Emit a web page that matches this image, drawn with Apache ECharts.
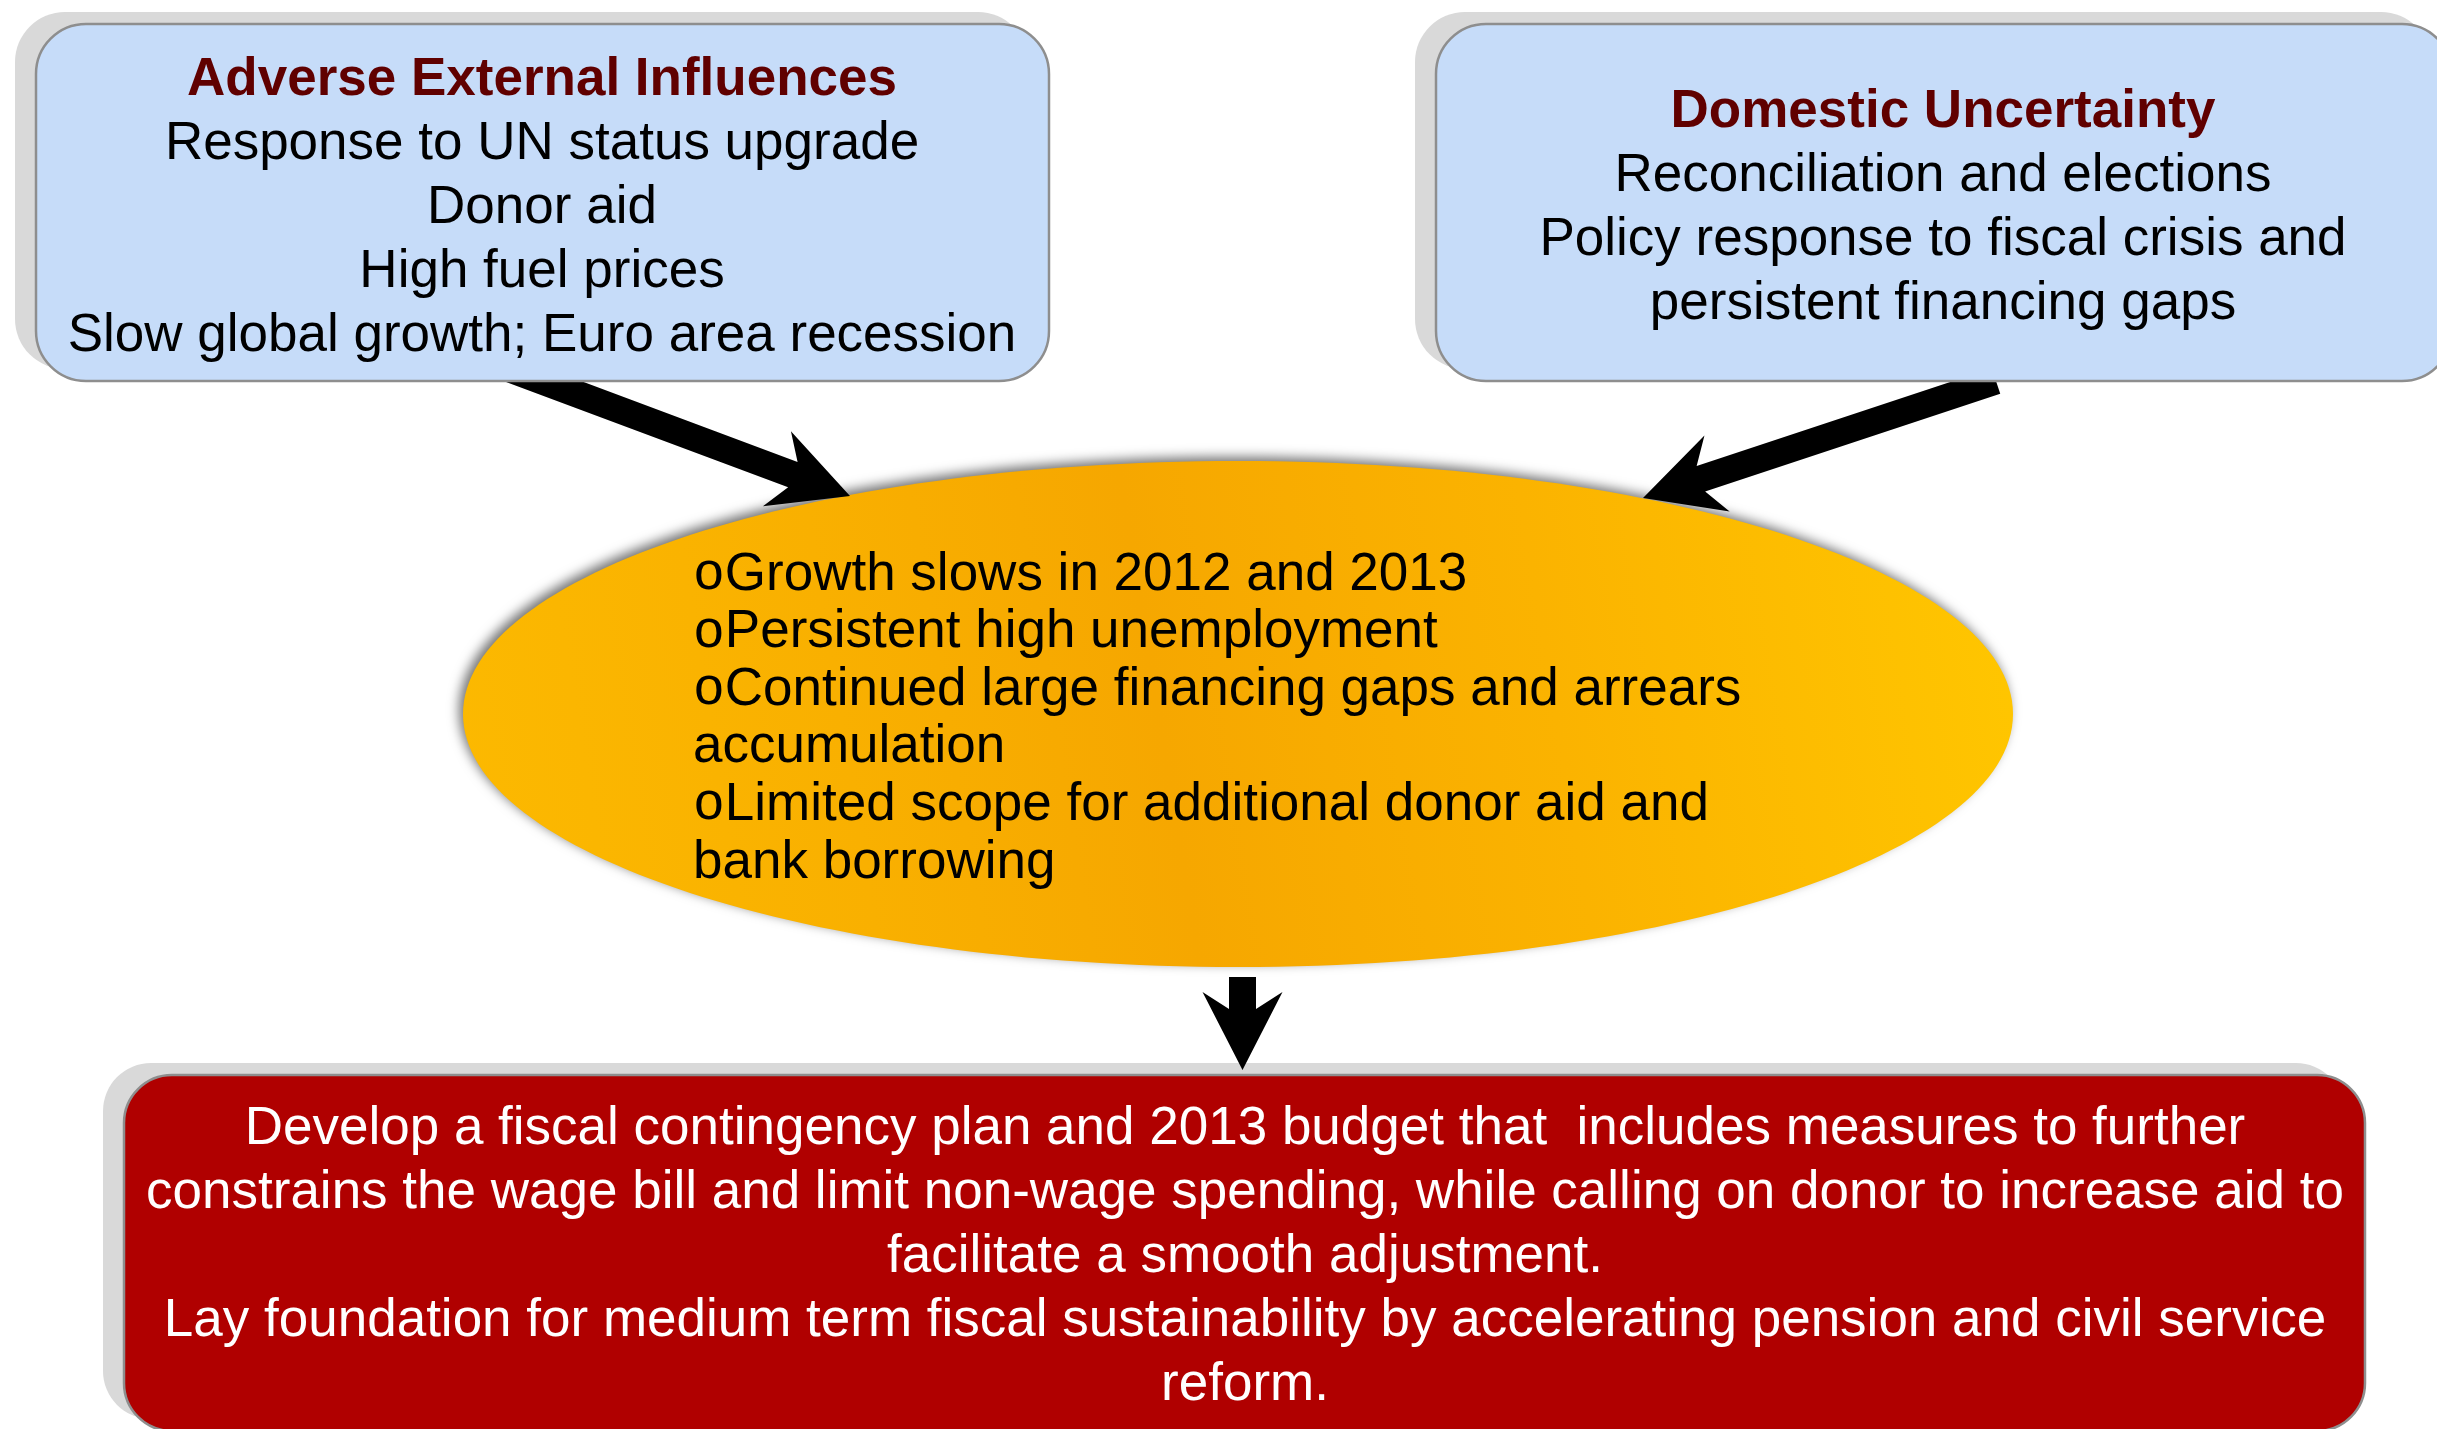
<!DOCTYPE html>
<html>
<head>
<meta charset="utf-8">
<script src="https://cdn.jsdelivr.net/npm/echarts@6/dist/echarts.min.js"></script>
<style>
html,body{margin:0;padding:0;background:#fff;}
#main{width:2437px;height:1429px;}
</style>
</head>
<body>
<div id="main"></div>
<script>
// ---- content (text of the diagram) ----
const leftTitle = 'Adverse External Influences';
const leftLines = ['Response to UN status upgrade', 'Donor aid', 'High fuel prices', 'Slow global growth; Euro area recession'];
const rightTitle = 'Domestic Uncertainty';
const rightLines = ['Reconciliation and elections', 'Policy response to fiscal crisis and', 'persistent financing gaps'];
const centerLines = ['Growth slows in 2012 and 2013', 'Persistent high unemployment', 'Continued large financing gaps and arrears', 'accumulation', 'Limited scope for additional donor aid and', 'bank borrowing'];
const centerBulleted = [true, true, true, false, true, false];
const bulletChar = 'o';
const bottomLines = ['Develop a fiscal contingency plan and 2013 budget that  includes measures to further',
  'constrains the wage bill and limit non-wage spending, while calling on donor to increase aid to',
  'facilitate a smooth adjustment.',
  'Lay foundation for medium term fiscal sustainability by accelerating pension and civil service',
  'reform.'];

// ---- layout & style ----
const FONT = '"Liberation Sans", Arial, Helvetica, sans-serif';
const FS = 53;
const layout = {
  leftBox:   {x: 36, y: 24, w: 1013, h: 357, r: 50, tx: 542, ty: 208, lh: 64},
  rightBox:  {x: 1436, y: 24, w: 1016, h: 357, r: 50, tx: 1943, ty: 208, lh: 64},
  bottomBox: {x: 124, y: 1075, w: 2241, h: 356, r: 48, tx: 1245, ty: 1257, lh: 64},
  shadowOff: [-21, -12],
  ellipse:   {cx: 1238, cy: 714, rx: 775, ry: 253, tx: 693, ty: 719, lh: 57.6},
  arrows: [
    {s: [494, 363], t: [850, 496]},
    {s: [1996, 381], t: [1643, 498]},
    {s: [1242.5, 977], t: [1242.5, 1070]}
  ],
  arrow: {w: 27, headLen: 61, barbBack: 78, barbHalf: 40}
};

function arrowPoints(s, t, a) {
  const dx = t[0] - s[0], dy = t[1] - s[1];
  const L = Math.hypot(dx, dy);
  const ux = dx / L, uy = dy / L, nx = -uy, ny = ux;
  const P = (p, q) => [s[0] + ux * p + nx * q, s[1] + uy * p + ny * q];
  const hw = a.w / 2;
  return [P(0, -hw), P(L - a.headLen, -hw), P(L - a.barbBack, -a.barbHalf), P(L, 0),
          P(L - a.barbBack, a.barbHalf), P(L - a.headLen, hw), P(0, hw)];
}

function boxElements(b, fill, z) {
  return [
    {type: 'rect', z: z, shape: {x: b.x + layout.shadowOff[0], y: b.y + layout.shadowOff[1], width: b.w, height: b.h, r: b.r},
      style: {fill: '#d9d9d9'}},
    {type: 'rect', z: z + 1, shape: {x: b.x, y: b.y, width: b.w, height: b.h, r: b.r},
      style: {fill: fill, stroke: '#8e8e8e', lineWidth: 2.5}}
  ];
}

function centeredLines(b, lines, styles, z) {
  const n = lines.length;
  return lines.map((t, i) => ({
    type: 'text', z: z,
    style: Object.assign({
      text: t, x: b.tx, y: b.ty + (i - (n - 1) / 2) * b.lh,
      align: 'center', verticalAlign: 'middle',
      fontFamily: FONT, fontSize: FS
    }, styles[i])
  }));
}

const els = [];
// bottom box
els.push(...boxElements(layout.bottomBox, '#b00000', 1));
els.push(...centeredLines(layout.bottomBox, bottomLines, bottomLines.map(() => ({fill: '#ffffff'})), 3));

// ellipse
const E = layout.ellipse;
els.push({type: 'ellipse', z: 5, shape: {cx: E.cx, cy: E.cy, rx: E.rx, ry: E.ry},
  style: {
    fill: {type: 'linear', x: 0, y: 0.75, x2: 1, y2: 0.25, colorStops: [
      {offset: 0, color: '#fcb900'}, {offset: 0.25, color: '#f9b000'}, {offset: 0.45, color: '#f6a700'},
      {offset: 0.7, color: '#fbb300'}, {offset: 1, color: '#ffc600'}]},
    shadowBlur: 12, shadowColor: 'rgba(0,0,0,0.55)', shadowOffsetX: -4, shadowOffsetY: -4
  }});
const nC = centerLines.length;
centerLines.forEach((t, i) => {
  els.push({type: 'text', z: 6, style: {
    text: centerBulleted[i] ? '{b|' + bulletChar + '}' + t : t,
    x: E.tx, y: E.ty + (i - (nC - 1) / 2) * E.lh,
    align: 'left', verticalAlign: 'middle', fontFamily: FONT, fontSize: FS, fill: '#000',
    rich: {b: {fontFamily: '"Liberation Mono", "Courier New", monospace', fontSize: FS, fill: '#000'}}
  }});
});

// arrows
layout.arrows.forEach(a => {
  els.push({type: 'polygon', z: 8, shape: {points: arrowPoints(a.s, a.t, layout.arrow)}, style: {fill: '#000'}});
});

// top boxes
els.push(...boxElements(layout.leftBox, '#c6dcf9', 10));
els.push(...centeredLines(layout.leftBox, [leftTitle].concat(leftLines),
  [{fill: '#600000', fontWeight: 'bold'}].concat(leftLines.map(() => ({fill: '#000'}))), 12));
els.push(...boxElements(layout.rightBox, '#c6dcf9', 10));
els.push(...centeredLines(layout.rightBox, [rightTitle].concat(rightLines),
  [{fill: '#600000', fontWeight: 'bold'}].concat(rightLines.map(() => ({fill: '#000'}))), 12));

const chart = echarts.init(document.getElementById('main'), null, {renderer: 'canvas'});
chart.setOption({animation: false, backgroundColor: '#ffffff', graphic: {elements: els}});
</script>
</body>
</html>
